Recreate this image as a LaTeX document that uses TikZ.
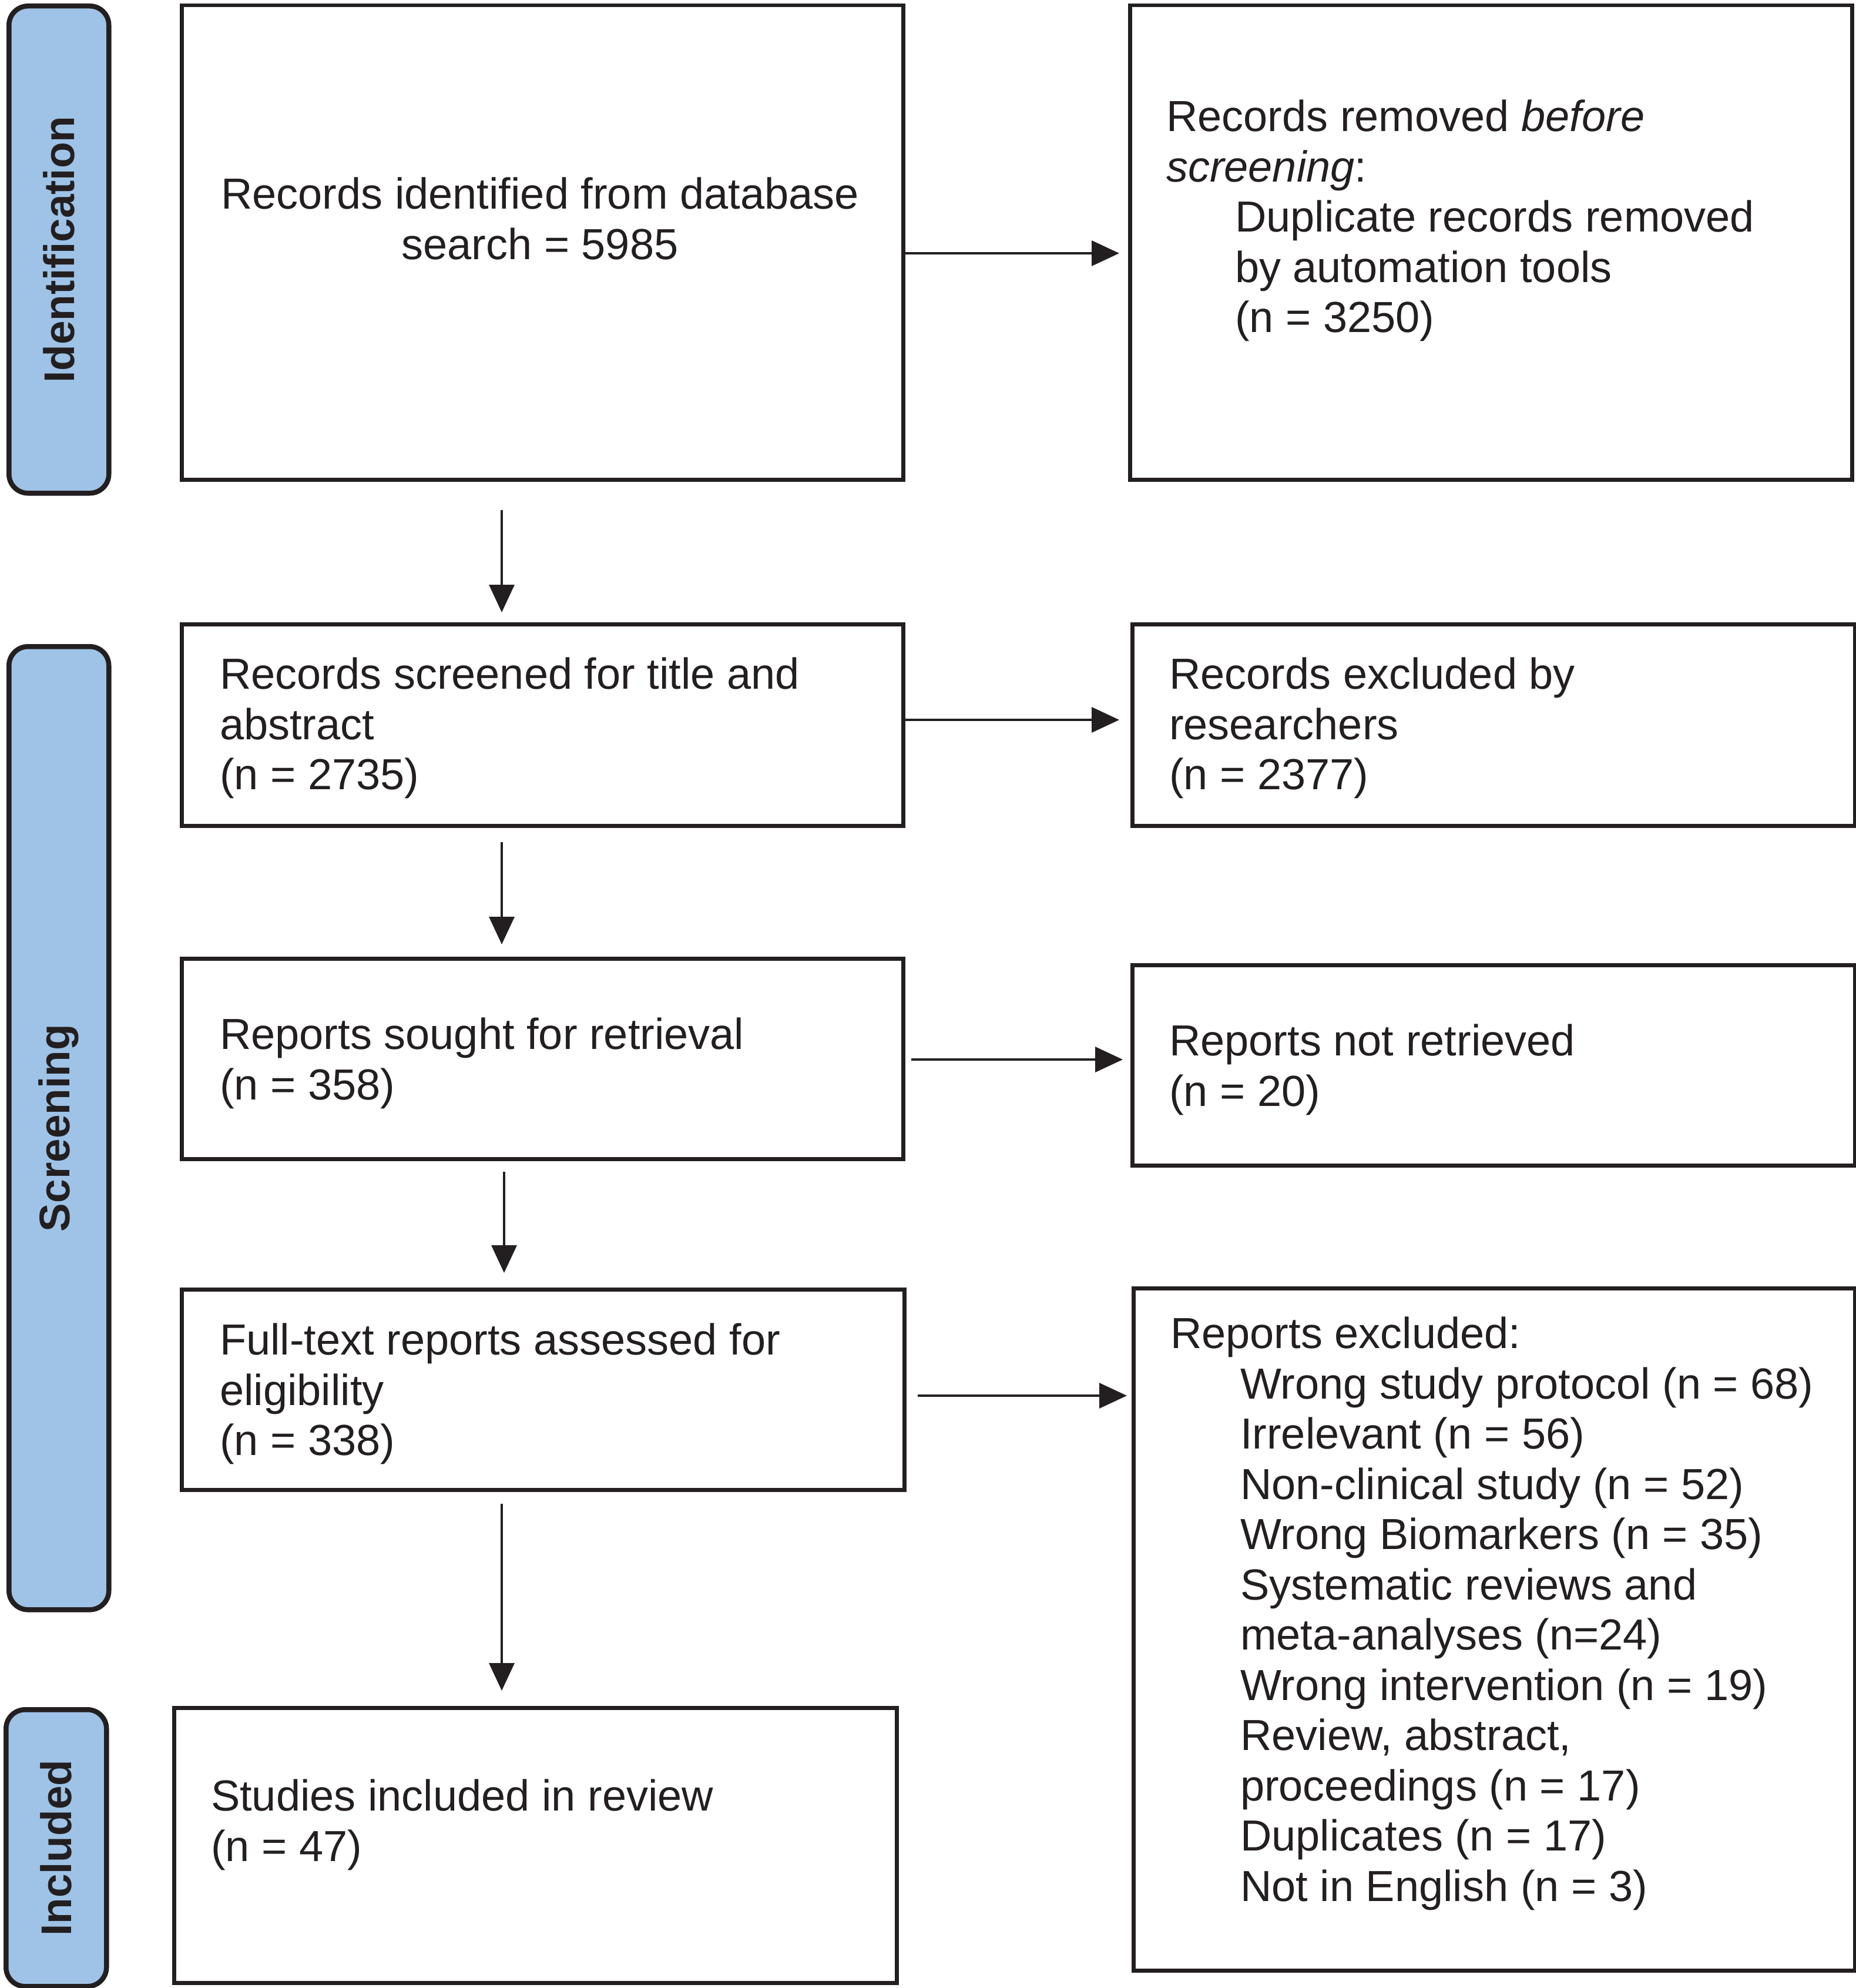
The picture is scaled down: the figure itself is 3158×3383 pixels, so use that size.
\documentclass[tikz,border=0pt]{standalone}
\usepackage{fontspec}
\setmainfont{Liberation Sans}
\usetikzlibrary{arrows.meta}
\definecolor{lblue}{RGB}{158,195,230}
\definecolor{ink}{RGB}{35,31,32}
\begin{document}
\begin{tikzpicture}[x=0.2pt,y=-0.2pt,
  box/.style={draw=ink, line width=1.3pt, rectangle, anchor=north west, inner sep=0pt},
  lab/.style={draw=ink, line width=1.7pt, fill=lblue, rounded corners=6.5pt, rectangle, anchor=north west, inner sep=0pt},
  labtxt/.style={rotate=90, inner sep=0pt, text=ink, font=\fontsize{14.6}{17}\selectfont\bfseries},
  txt/.style={anchor=north west, inner sep=0pt, align=left, text=ink, font=\fontsize{14.8}{17.1}\selectfont},
  arr/.style={draw=ink, line width=0.7pt, -{Triangle[length=9.4pt,width=8.6pt]}}]
\useasboundingbox (0,0) rectangle (3158,3383);

% stage labels
\node[lab, minimum width=34pt, minimum height=165.8pt] (L1) at (11,6) {};
\node[labtxt] (L1t) at (L1.center) {Identification};
\node[lab, minimum width=34pt, minimum height=327.8pt] (L2) at (11,1096) {};
\node[labtxt] (L2t) at (L2.center) {Screening};
\node[lab, minimum width=34.2pt, minimum height=94.2pt] (L3) at (6,2905) {};
\node[labtxt] (L3t) at (L3.center) {Included};

% boxes
\node[box, minimum width=245.6pt, minimum height=161.4pt] (b1) at (306,6) {};
\node[box, minimum width=245.8pt, minimum height=161.4pt] (b2) at (1920,6) {};
\node[box, minimum width=245.6pt, minimum height=68.6pt] (b3) at (306,1059) {};
\node[box, minimum width=246pt, minimum height=68.6pt] (b4) at (1924,1059) {};
\node[box, minimum width=245.6pt, minimum height=68.2pt] (b5) at (306,1628) {};
\node[box, minimum width=246pt, minimum height=68.2pt] (b6) at (1924,1639) {};
\node[box, minimum width=246pt, minimum height=68.2pt] (b7) at (306,2191) {};
\node[box, minimum width=245.6pt, minimum height=232.2pt] (b8) at (1926,2189) {};
\node[box, minimum width=246pt, minimum height=93.6pt] (b9) at (293,2903) {};

% texts
\node[txt, anchor=north, align=center] (t1) at (919,301) {Records identified from database\\search = 5985};
\node[txt] (t2) at (1984,169) {Records removed \textit{before}\\\textit{screening}:\\
\hspace*{23.4pt}Duplicate records removed\\\hspace*{23.4pt}by automation tools\\\hspace*{23.4pt}(n = 3250)};
\node[txt] (t3) at (373,1118) {Records screened for title and\\abstract\\(n = 2735)};
\node[txt] (t4) at (1989,1118) {Records excluded by\\researchers\\(n = 2377)};
\node[txt] (t5) at (373,1731) {Reports sought for retrieval\\(n = 358)};
\node[txt] (t6) at (1989,1742) {Reports not retrieved\\(n = 20)};
\node[txt] (t7) at (373,2251) {Full-text reports assessed for\\eligibility\\(n = 338)};
\node[txt] (t8) at (1991,2240) {Reports excluded:\\
\hspace*{23.8pt}Wrong study protocol (n = 68)\\
\hspace*{23.8pt}Irrelevant (n = 56)\\
\hspace*{23.8pt}Non-clinical study (n = 52)\\
\hspace*{23.8pt}Wrong Biomarkers (n = 35)\\
\hspace*{23.8pt}Systematic reviews and\\
\hspace*{23.8pt}meta-analyses (n=24)\\
\hspace*{23.8pt}Wrong intervention (n = 19)\\
\hspace*{23.8pt}Review, abstract,\\
\hspace*{23.8pt}proceedings (n = 17)\\
\hspace*{23.8pt}Duplicates (n = 17)\\
\hspace*{23.8pt}Not in English (n = 3)};
\node[txt] (t9) at (358,3027) {Studies included in review\\(n = 47)};

% connector coordinates
\coordinate (va) at (854,0);
\coordinate (vb) at (858,0);
\coordinate (h1) at (0,431);
\coordinate (h2) at (0,1225);
\coordinate (h3) at (0,1803);
\coordinate (h4) at (0,2375);

% horizontal arrows
\draw[arr, shorten >=3pt] (b1.east |- h1) -- (b2.west |- h1);
\draw[arr, shorten >=3.8pt] (b3.east |- h2) -- (b4.west |- h2);
\draw[arr, shorten <=2pt, shorten >=2.6pt] (b5.east |- h3) -- (b6.west |- h3);
\draw[arr, shorten <=3.8pt, shorten >=1.6pt] (b7.east |- h4) -- (b8.west |- h4);

% vertical arrows
\draw[arr, shorten <=9.6pt, shorten >=3.4pt] (b1.south -| va) -- (b3.north -| va);
\draw[arr, shorten <=4.8pt, shorten >=4.2pt] (b3.south -| va) -- (b5.north -| va);
\draw[arr, shorten <=3.6pt, shorten >=5pt] (b5.south -| vb) -- (b7.north -| vb);
\draw[arr, shorten <=4pt, shorten >=5.2pt] (b7.south -| va) -- (b9.north -| va);
\end{tikzpicture}
\end{document}
